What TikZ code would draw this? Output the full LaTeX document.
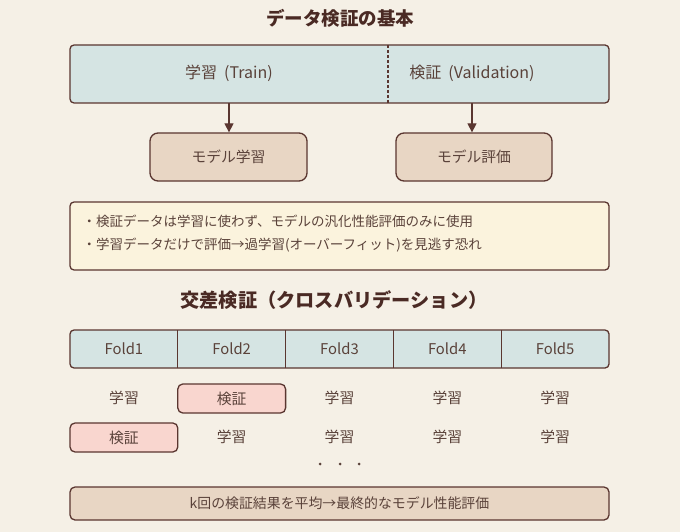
\documentclass[tikz,border=0pt]{standalone}
\usepackage{fontspec}
\setmainfont{Noto Sans CJK JP}
\usetikzlibrary{arrows.meta}
\definecolor{bgc}{HTML}{F5F0E6}
\definecolor{edgec}{HTML}{5A3630}
\definecolor{txtc}{HTML}{5A423A}
\definecolor{titc}{HTML}{4A2A24}
\definecolor{bluec}{HTML}{D5E4E3}
\definecolor{brownc}{HTML}{E8D6C4}
\definecolor{pinkc}{HTML}{F9D6CF}
\definecolor{creamc}{HTML}{FBF3DD}
\tikzset{
  box/.style={draw=edgec, line width=1.3pt, rounded corners=4pt, inner sep=0pt},
  titletxt/.style={text=titc, font=\fontsize{18.5}{20}\selectfont\bfseries},
  toplbl/.style={text=txtc, font=\fontsize{16}{18}\selectfont},
  lbl/.style={text=txtc, font=\fontsize{14.8}{16}\selectfont},
  small/.style={text=txtc, font=\fontsize{13.5}{15}\selectfont},
  arr/.style={draw=edgec, line width=1.3pt, -{Triangle[length=9pt,width=9pt]}},
}
\begin{document}
\begin{tikzpicture}[x=1pt,y=-1pt]
\fill[bgc] (0,0) rectangle (680,532);
\useasboundingbox (0,0) rectangle (680,532);
% title 1
\node[titletxt] (t1) at (340,18) {データ検証の基本};
% top box
\draw[box, fill=bluec] (70,45) rectangle (609,103);
\coordinate (dtop) at (388,45);
\coordinate (dbot) at (388,103);
\draw[edgec, line width=1.1pt, dash pattern=on 3pt off 2pt] (dtop) -- (dbot);
\node[toplbl] (train) at (229,73) {学習\hspace{7pt}(Train)};
\node[toplbl] (val) at (472,73) {検証\hspace{7pt}(Validation)};
\coordinate (a1) at (229,103);
\coordinate (a2) at (472,103);
\node[box, fill=brownc, minimum width=157pt, minimum height=48pt, rounded corners=8pt, lbl] (ml) at (228.5,157) {モデル学習};
\node[box, fill=brownc, minimum width=156pt, minimum height=48pt, rounded corners=8pt, lbl] (me) at (474,157) {モデル評価};
\draw[arr] (a1) -- (ml.north -| a1);
\draw[arr] (a2) -- (me.north -| a2);
% note box
\draw[box, fill=creamc] (70,202) rectangle (609,270);
\node[small, anchor=west] (n1) at (79,221) {・検証データは学習に使わず、モデルの汎化性能評価のみに使用};
\node[small, anchor=west] (n2) at (79,245) {・学習データだけで評価→過学習(オーバーフィット)を見逃す恐れ};
% title 2
\node[titletxt, font=\fontsize{19.2}{21}\selectfont\bfseries] (t2) at (334,300) {交差検証（クロスバリデーション）};
% folds
\draw[box, fill=bluec] (70,330) rectangle (609,368);
\foreach \i in {1,2,3,4} {
  \coordinate (s\i t) at ({70+107.8*\i},330);
  \coordinate (s\i b) at ({70+107.8*\i},368);
  \draw[edgec, line width=1.3pt] (s\i t) -- (s\i b);
}
\foreach \i in {1,...,5} {
  \node[lbl] (f\i) at ({70+107.8*(\i-0.5)},349) {Fold\i};
}
% row 1
\node[lbl] (r11) at (124,398) {学習};
\node[box, fill=pinkc, minimum width=107.8pt, minimum height=29pt, rounded corners=5pt, lbl] (r12) at (231.7,398.5) {検証};
\node[lbl] (r13) at (339.5,398) {学習};
\node[lbl] (r14) at (447.3,398) {学習};
\node[lbl] (r15) at (555.1,398) {学習};
% row 2
\node[box, fill=pinkc, minimum width=107.8pt, minimum height=29pt, rounded corners=5pt, lbl] (r21) at (123.9,437.5) {検証};
\node[lbl] (r22) at (231.7,437) {学習};
\node[lbl] (r23) at (339.5,437) {学習};
\node[lbl] (r24) at (447.3,437) {学習};
\node[lbl] (r25) at (555.1,437) {学習};
% dots
\fill[txtc] (320,464) circle (1.5pt);
\fill[txtc] (340,464) circle (1.5pt);
\fill[txtc] (359,464) circle (1.5pt);
% bottom box
\node[box, fill=brownc, minimum width=539pt, minimum height=33pt, rounded corners=5pt, small, font=\fontsize{13.9}{15}\selectfont] (res) at (339.5,503.5) {k回の検証結果を平均→最終的なモデル性能評価};
\end{tikzpicture}
\end{document}
